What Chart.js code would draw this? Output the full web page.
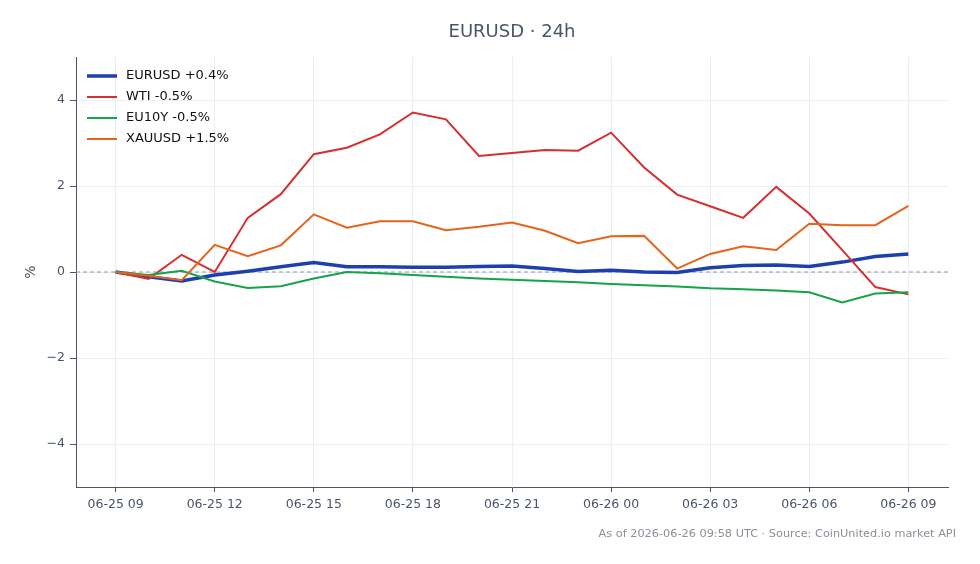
<!DOCTYPE html>
<html>
<head>
<meta charset="utf-8">
<script src="https://cdn.jsdelivr.net/npm/chart.js@4"></script>
<style>
  body { margin: 0; background: #fff; }
  canvas { display: block; }
</style>
</head>
<body>
<canvas id="chart" width="980" height="564"></canvas>
<script>
// hourly points, 06-25 09:00 -> 06-26 09:00 (% change)
const hours = [0, 1, 2, 3, 4, 5, 6, 7, 8, 9, 10, 11, 12, 13, 14, 15, 16, 17, 18, 19, 20, 21, 22, 23, 24];
const tickLabels = ['06-25 09', '06-25 12', '06-25 15', '06-25 18', '06-25 21', '06-26 00', '06-26 03', '06-26 06', '06-26 09'];
const yTicks = [-4, -2, 0, 2, 4];

const eurusd = [0, -0.11, -0.21, -0.07, 0.02, 0.12, 0.22, 0.12, 0.12, 0.11, 0.11, 0.13, 0.14, 0.08, 0.01, 0.04, 0.0, -0.01, 0.10, 0.15, 0.16, 0.13, 0.23, 0.36, 0.42];
const wti = [0, -0.16, 0.40, 0.0, 1.26, 1.81, 2.74, 2.89, 3.20, 3.71, 3.55, 2.70, 2.77, 2.84, 2.82, 3.24, 2.43, 1.80, 1.53, 1.26, 1.98, 1.36, 0.51, -0.35, -0.52];
const eu10y = [0, -0.07, 0.03, -0.22, -0.37, -0.33, -0.15, 0.0, -0.03, -0.07, -0.11, -0.15, -0.18, -0.21, -0.24, -0.28, -0.31, -0.34, -0.38, -0.40, -0.43, -0.47, -0.71, -0.50, -0.47];
const xauusd = [0, -0.09, -0.19, 0.63, 0.37, 0.62, 1.34, 1.03, 1.18, 1.18, 0.97, 1.05, 1.15, 0.96, 0.67, 0.83, 0.84, 0.08, 0.42, 0.60, 0.51, 1.12, 1.09, 1.09, 1.54];

const series = [
  { label: 'EURUSD +0.4%', data: eurusd, color: '#1e40af', width: 3.5 },
  { label: 'WTI -0.5%', data: wti, color: '#d62f2f', width: 2 },
  { label: 'EU10Y -0.5%', data: eu10y, color: '#16a34a', width: 2 },
  { label: 'XAUUSD +1.5%', data: xauusd, color: '#e4641c', width: 2 }
];

const textColor = '#4a5568';
const font = 'DejaVu Sans';

// zero line, title, footer, y label and legend
const extras = {
  id: 'extras',
  beforeDatasetsDraw(chart) {
    const { ctx, chartArea, scales } = chart;
    const y = scales.y.getPixelForValue(0);
    ctx.save();
    ctx.strokeStyle = '#8d9ab2';
    ctx.lineWidth = 1;
    ctx.setLineDash([4, 3]);
    ctx.beginPath();
    ctx.moveTo(chartArea.left, y);
    ctx.lineTo(chartArea.right, y);
    ctx.stroke();
    ctx.restore();
  },
  afterDraw(chart) {
    const { ctx, chartArea } = chart;
    ctx.save();
    ctx.fillStyle = textColor;
    ctx.font = '18px "' + font + '"';
    ctx.textAlign = 'center';
    ctx.textBaseline = 'middle';
    ctx.fillText('EURUSD · 24h', (chartArea.left + chartArea.right) / 2, 32);

    ctx.fillStyle = '#8a9099';
    ctx.font = '11.3px "' + font + '"';
    ctx.textAlign = 'right';
    ctx.fillText('As of 2026-06-26 09:58 UTC · Source: CoinUnited.io market API', 956, 534);

    ctx.fillStyle = textColor;
    ctx.font = '14px "' + font + '"';
    ctx.translate(31, (chartArea.top + chartArea.bottom) / 2);
    ctx.rotate(-Math.PI / 2);
    ctx.textAlign = 'center';
    ctx.fillText('%', 0, 0);
    ctx.restore();

    ctx.save();
    ctx.font = '13px "' + font + '"';
    ctx.textAlign = 'left';
    ctx.textBaseline = 'middle';
    series.forEach((s, i) => {
      const y = 76 + i * 21;
      ctx.strokeStyle = s.color;
      ctx.lineWidth = s.width;
      ctx.beginPath();
      ctx.moveTo(87, y);
      ctx.lineTo(117, y);
      ctx.stroke();
      ctx.fillStyle = '#111';
      ctx.fillText(s.label, 126, y);
    });
    ctx.restore();
  }
};

new Chart(document.getElementById('chart'), {
  type: 'line',
  data: {
    datasets: series.map((s, i) => ({
      label: s.label,
      data: hours.map((h, j) => ({ x: h, y: s.data[j] })),
      borderColor: s.color,
      borderWidth: s.width,
      pointRadius: 0,
      tension: 0,
      fill: false,
      order: series.length - i
    }))
  },
  options: {
    responsive: false,
    animation: false,
    layout: { padding: { top: 57, right: 32, left: 0, bottom: 0 } },
    plugins: { legend: { display: false }, title: { display: false }, tooltip: { enabled: false } },
    scales: {
      x: {
        type: 'linear',
        min: -1.2,
        max: 25.2,
        afterBuildTicks: axis => { axis.ticks = tickLabels.map((t, i) => ({ value: i * 3 })); },
        afterFit: axis => { axis.height = 77; },
        ticks: {
          callback: (v) => tickLabels[Math.round(v / 3)],
          color: textColor,
          font: { family: font, size: 12.5 },
          padding: 5,
          maxRotation: 0
        },
        grid: { color: '#eceef1', lineWidth: 1, tickLength: 5, tickColor: textColor },
        border: { color: textColor, width: 1 }
      },
      y: {
        min: -5,
        max: 5,
        afterBuildTicks: axis => { axis.ticks = yTicks.map(v => ({ value: v })); },
        afterFit: axis => { axis.width = 76; },
        ticks: {
          callback: v => v < 0 ? '\u2212' + Math.abs(v) : String(v),
          color: textColor,
          font: { family: font, size: 12.5 },
          padding: 5
        },
        grid: { color: '#eceef1', lineWidth: 1, tickLength: 6, tickColor: textColor },
        border: { color: textColor, width: 1 }
      }
    }
  },
  plugins: [extras]
});
</script>
</body>
</html>
